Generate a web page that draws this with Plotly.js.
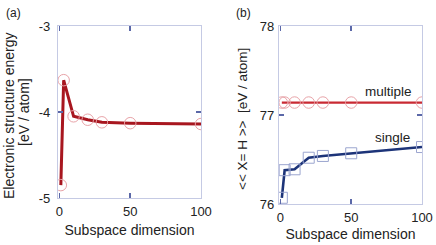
<!DOCTYPE html>
<html><head><meta charset="utf-8">
<script src="https://cdn.plot.ly/plotly-3.0.1.min.js"></script>
<style>html,body{margin:0;padding:0;background:#fff}#c{width:436px;height:245px}</style>
</head><body><div id="c"></div>
<script>
const dims = [1, 3, 10, 20, 30, 50, 100];
const energyA = [-4.85, -3.63, -4.05, -4.09, -4.12, -4.13, -4.14];
const multipleB = [77.14, 77.14, 77.14, 77.14, 77.14, 77.14, 77.14];
const singleB = [76.07, 76.38, 76.39, 76.52, 76.54, 76.57, 76.64];
const xTicks = [0, 50, 100];
const yTicksA = [-5, -4, -3];
const yTicksB = [76, 77, 78];

const W = 436, H = 245;
const px = v => v / W, py = v => (H - v) / H;
const font = "Liberation Sans, Arial, sans-serif";
const frame = "#C5CAE4", tickc = "#5B68A8";

const traces = [
  {x: dims, y: energyA, xaxis: 'x', yaxis: 'y', mode: 'lines', line: {color: '#A8161F', width: 3}},
  {x: dims, y: energyA, xaxis: 'x', yaxis: 'y', mode: 'markers', marker: {symbol: 'circle-open', size: 11.5, color: '#E8A3A8', line: {width: 1}}},
  {x: dims, y: multipleB, xaxis: 'x2', yaxis: 'y2', mode: 'lines', line: {color: '#C92A33', width: 2.2}},
  {x: dims, y: multipleB, xaxis: 'x2', yaxis: 'y2', mode: 'markers', marker: {symbol: 'circle-open', size: 11.5, color: '#E8A3A8', line: {width: 1}}},
  {x: dims, y: singleB, xaxis: 'x2', yaxis: 'y2', mode: 'lines', line: {color: '#1D3479', width: 2.6}},
  {x: dims, y: singleB, xaxis: 'x2', yaxis: 'y2', mode: 'markers', marker: {symbol: 'square-open', size: 11, color: '#9BA5CF', line: {width: 1}}}
];

const axBase = {
  showline: true, mirror: 'allticks', linecolor: frame, linewidth: 1.2,
  ticks: 'inside', ticklen: 5, tickwidth: 1.5, tickcolor: tickc,
  showgrid: false, zeroline: false, tickfont: {family: font, size: 13, color: '#222'},
  fixedrange: true
};
const ttl = {family: font, size: 14, color: '#222'};
const ann = {family: font, size: 13.5, color: '#222'};
const lab = {family: font, size: 12, color: '#222'};
const A = (text, x, y, f, extra) => Object.assign({text, x: px(x), y: py(y), xref: 'paper', yref: 'paper',
  xanchor: 'center', yanchor: 'middle', showarrow: false, font: f}, extra || {});

const layout = {
  width: W, height: H, margin: {l: 0, r: 0, t: 0, b: 0},
  paper_bgcolor: '#fff', plot_bgcolor: '#fff', showlegend: false,
  font: {family: font, color: '#222'},
  xaxis: Object.assign({}, axBase, {domain: [px(58), px(201)], range: [-1, 100], tickvals: xTicks, anchor: 'y',
    ticklabelstandoff: 1, title: {text: 'Subspace dimension', font: ttl, standoff: 7}}),
  yaxis: Object.assign({}, axBase, {domain: [py(198), py(26)], range: [-5, -3], tickvals: yTicksA, ticktext: ['-5', '-4', '-3'], anchor: 'x', ticklabelstandoff: 4}),
  xaxis2: Object.assign({}, axBase, {domain: [px(279), px(422)], range: [-1, 100], tickvals: xTicks, anchor: 'y2',
    ticklabelstandoff: 1, title: {text: 'Subspace dimension', font: ttl, standoff: 5}}),
  yaxis2: Object.assign({}, axBase, {domain: [py(204), py(26)], range: [76, 78], tickvals: yTicksB, anchor: 'x2', ticklabelstandoff: 1}),
  annotations: [
    A('(a)', 13, 13, lab),
    A('(b)', 243, 13, lab),
    A('Electronic structure energy', 9, 116, ttl, {textangle: -90}),
    A('[eV / atom]', 24, 112, ttl, {textangle: -90}),
    A('<< X= H >>  [eV / atom]', 242, 119, ann, {textangle: -90}),
    A('multiple', 388, 91, ann),
    A('single', 392, 137, ann)
  ]
};
Plotly.newPlot('c', traces, layout, {staticPlot: true});
</script></body></html>
